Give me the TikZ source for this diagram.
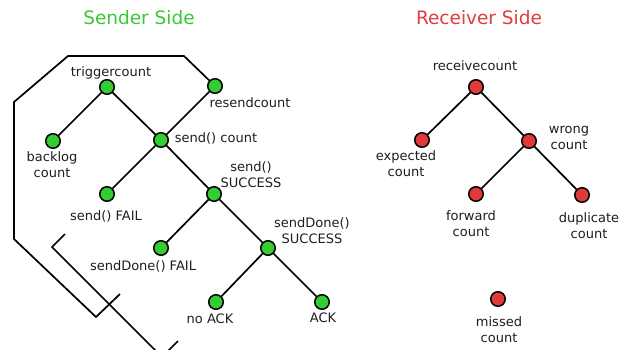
\documentclass[tikz,border=0pt]{standalone}
\usepackage{fontspec}
\setmainfont{DejaVu Sans}
\definecolor{sgreen}{RGB}{51,204,51}
\definecolor{rred}{RGB}{224,58,58}
\definecolor{tgreen}{RGB}{60,200,50}
\definecolor{tred}{RGB}{225,60,60}
\definecolor{txt}{RGB}{30,30,30}
\begin{document}
\begin{tikzpicture}[x=1pt,y=-1pt,
  dot/.style={circle,draw=black,line width=1.5pt,minimum size=14.5pt,inner sep=0pt},
  gdot/.style={dot,fill=sgreen},
  rdot/.style={dot,fill=rred},
  lbl/.style={font=\fontsize{13}{16}\selectfont,align=center,inner sep=0pt,text=txt},
  head/.style={font=\fontsize{18.5}{22}\selectfont,inner sep=0pt},
  edge/.style={line width=1.7pt,line join=miter}]
\useasboundingbox (0,0) rectangle (635,349);

% headings
\node[head,text=tgreen] (hs) at (139,18) {Sender Side};
\node[head,text=tred] (hr) at (479,18) {Receiver Side};

% outline shapes (clipped at the picture border)
\coordinate (o1) at (184,56);
\coordinate (o2) at (68,56);
\coordinate (o3) at (14,102);
\coordinate (o4) at (14,239);
\coordinate (o5) at (96,317);
\coordinate (o6) at (120,294);
\coordinate (p1) at (65,234);
\coordinate (p2) at (52,247);
\coordinate (p3) at (162,357);
\coordinate (p4) at (178,341);

% sender nodes
\node[gdot] (trig) at (107,87) {};
\node[gdot] (resend) at (215,86) {};
\node[gdot] (sendc) at (161,140) {};
\node[gdot] (backlog) at (53,141) {};
\node[gdot] (sfail) at (107,194) {};
\node[gdot] (ssucc) at (214,194) {};
\node[gdot] (sdfail) at (161,248) {};
\node[gdot] (sdsucc) at (268,248) {};
\node[gdot] (noack) at (216,302) {};
\node[gdot] (ack) at (322,302) {};

\begin{scope}
\clip (0,0) rectangle (635,349);
\draw[edge] (resend) -- (o1) -- (o2) -- (o3) -- (o4) -- (o5) -- (o6);
\draw[edge] (p1) -- (p2) -- (p3) -- (p4);
\end{scope}

\draw[edge] (trig) -- (backlog);
\draw[edge] (trig) -- (sendc);
\draw[edge] (resend) -- (sendc);
\draw[edge] (sendc) -- (sfail);
\draw[edge] (sendc) -- (ssucc);
\draw[edge] (ssucc) -- (sdfail);
\draw[edge] (ssucc) -- (sdsucc);
\draw[edge] (sdsucc) -- (noack);
\draw[edge] (sdsucc) -- (ack);

% sender labels
\node[lbl] (ltrig) at (111,73) {triggercount};
\node[lbl] (lresend) at (250,103) {resendcount};
\node[lbl] (lsendc) at (216,138) {send() count};
\node[lbl] (lbacklog) at (52,165) {backlog\\count};
\node[lbl] (lsfail) at (106,216) {send() FAIL};
\node[lbl] (lssucc) at (251,175) {send()\\SUCCESS};
\node[lbl] (lsdfail) at (143,266) {sendDone() FAIL};
\node[lbl] (lsdsucc) at (312,231) {sendDone()\\SUCCESS};
\node[lbl] (lnoack) at (210,319) {no ACK};
\node[lbl] (lack) at (323,318) {ACK};

% receiver nodes
\node[rdot] (recv) at (476,87) {};
\node[rdot] (expct) at (422,140) {};
\node[rdot] (wrong) at (529,141) {};
\node[rdot] (fwd) at (476,194) {};
\node[rdot] (dup) at (582,195) {};
\node[rdot] (missed) at (498,299) {};

\draw[edge] (recv) -- (expct);
\draw[edge] (recv) -- (wrong);
\draw[edge] (wrong) -- (fwd);
\draw[edge] (wrong) -- (dup);

% receiver labels
\node[lbl] (lrecv) at (475,66) {receivecount};
\node[lbl] (lexpct) at (406,164) {expected\\count};
\node[lbl] (lwrong) at (569,138) {wrong\\count};
\node[lbl] (lfwd) at (471,224) {forward\\count};
\node[lbl] (ldup) at (589,226) {duplicate\\count};
\node[lbl] (lmissed) at (499,330) {missed\\count};
\end{tikzpicture}
\end{document}
